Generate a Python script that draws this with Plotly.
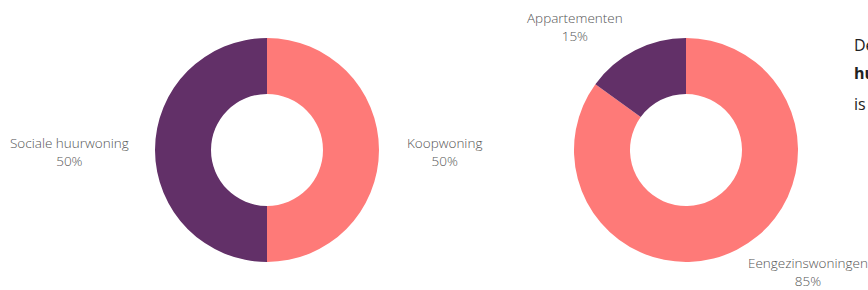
import plotly.graph_objects as go

# Data
left_labels = ["Koopwoning", "Sociale huurwoning"]
left_values = [50, 50]
right_labels = ["Eengezinswoningen", "Appartementen"]
right_values = [85, 15]
colors = ["#fe7a78", "#623068"]

W, H = 868, 290

fig = go.Figure()
fig.add_trace(go.Pie(
    labels=left_labels, values=left_values, hole=0.5, sort=False,
    direction="clockwise", rotation=0, textinfo="none", hoverinfo="label+percent",
    marker=dict(colors=colors, line=dict(width=0)),
    domain=dict(x=[155 / W, 379 / W], y=[28 / H, 252 / H]),
    showlegend=False,
))
fig.add_trace(go.Pie(
    labels=right_labels, values=right_values, hole=0.5, sort=False,
    direction="clockwise", rotation=0, textinfo="none", hoverinfo="label+percent",
    marker=dict(colors=colors, line=dict(width=0)),
    domain=dict(x=[574 / W, 798 / W], y=[28 / H, 252 / H]),
    showlegend=False,
))

def pct(vals, i):
    return f"{round(vals[i] / sum(vals) * 100)}%"

label_font = dict(family="Open Sans", size=13.5, color="#555555", weight=300)
# (label, percent, x_px, y_px_from_top)
label_pos = [
    (left_labels[1], pct(left_values, 1), 69, 152),
    (left_labels[0], pct(left_values, 0), 444, 152),
    (right_labels[1], pct(right_values, 1), 575, 27),
    (right_labels[0], pct(right_values, 0), 808, 272),
]
annotations = []
for lab, p, xp, yp in label_pos:
    annotations.append(dict(
        text=f"{lab}<br>{p}", x=xp / W, y=1 - yp / H, xref="paper", yref="paper",
        showarrow=False, xanchor="center", yanchor="middle", align="center",
        font=label_font,
    ))

side_font = dict(family="Open Sans", size=16, color="#222222")
side_lines = [("De verhouding", 45), ("<b>huurwoningen</b>", 73), ("is", 104)]
for t, yp in side_lines:
    annotations.append(dict(
        text=t, x=852 / W, y=1 - yp / H, xref="paper", yref="paper",
        showarrow=False, xanchor="left", yanchor="middle", align="left",
        font=side_font,
    ))

fig.update_layout(
    width=W, height=H, margin=dict(l=0, r=0, t=0, b=0),
    paper_bgcolor="white", plot_bgcolor="white",
    annotations=annotations,
)

fig.write_html(
    "out.html",
    config={"displayModeBar": False},
    post_script="document.body.style.margin='0';document.body.style.overflow='hidden';",
)
